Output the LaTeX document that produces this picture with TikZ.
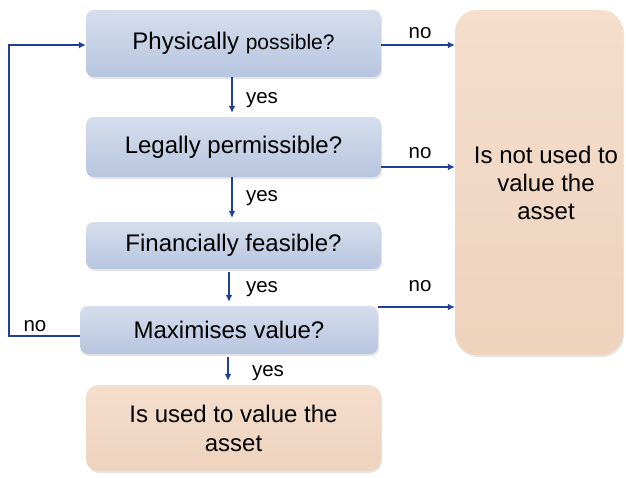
\documentclass[tikz,border=0pt]{standalone}
\usepackage{fontspec}
\setmainfont{Liberation Sans}
\usetikzlibrary{arrows.meta,shadows}
\definecolor{bluetop}{HTML}{D6DEED}
\definecolor{bluebot}{HTML}{B7C5DF}
\definecolor{peach}{HTML}{EED3BD}
\definecolor{peachtop}{HTML}{F4DECC}
\definecolor{arrowblue}{HTML}{1F3F99}
\tikzset{
  qbox/.style={rectangle, rounded corners=8pt, top color=bluetop, bottom color=bluebot,
    draw=none, minimum width=295pt, align=center, inner sep=0pt,
    font=\fontsize{24}{28}\selectfont,
    drop shadow={shadow xshift=1pt, shadow yshift=-2pt, fill=black!25, opacity=.4}},
  abox/.style={rectangle, top color=peachtop, bottom color=peach, draw=none,
    align=center, inner sep=0pt, font=\fontsize{24}{29}\selectfont,
    drop shadow={shadow xshift=1pt, shadow yshift=-2pt, fill=black!25, opacity=.4}},
  arr/.style={draw=arrowblue, line width=2pt, -{Latex[length=7pt,width=7pt]}},
  lbl/.style={font=\fontsize{20.5}{24}\selectfont, inner sep=0pt}
}
\begin{document}
\begin{tikzpicture}[x=1pt,y=-1pt]
\useasboundingbox (0,0) rectangle (626,477);
\node[qbox, minimum height=67pt] (b1) at (233.5,43.5) {Physically {\fontsize{21}{25}\selectfont possible?}};
\node[qbox, minimum height=60pt] (b2) at (233.5,147) {Legally permissible?};
\node[qbox, minimum height=47pt] (b3) at (233.5,245.5) {Financially feasible?};
\node[qbox, minimum height=48pt, minimum width=298pt] (b4) at (229,330) {Maximises value?};
\node[abox, rounded corners=12pt, minimum width=295pt, minimum height=86pt] (b5) at (233.5,428) {Is used to value the\\asset};
\node[abox, rounded corners=22pt, minimum width=168pt, minimum height=345pt] (R) at (539,182.5) {};
\node[font=\fontsize{24}{28.3}\selectfont, align=center, inner sep=0pt] (Rt) at (546,183) {Is not used to\\value the\\asset};

% yes arrows
\draw[arr] ([xshift=-1.5pt]b1.south) -- ([xshift=-1.5pt,yshift=4pt]b2.north);
\draw[arr] ([xshift=-1.5pt]b2.south) -- ([xshift=-1.5pt,yshift=4pt]b3.north);
\draw[arr] ([xshift=-4.5pt,yshift=-3pt]b3.south) -- ([xshift=0pt,yshift=4pt]b4.north);
\draw[arr] ([xshift=-1pt,yshift=-3pt]b4.south) -- ([xshift=-5.5pt,yshift=4pt]b5.north);
\node[lbl] (y1) at (262,100) {yes};
\node[lbl] (y2) at (262,198) {yes};
\node[lbl] (y3) at (262,289) {yes};
\node[lbl] (y4) at (268,373) {yes};

% no arrows
\draw[arr] ([yshift=-1.5pt]b1.east) -- ([yshift=-1.5pt]b1.east -| R.west);
\draw[arr] ([yshift=-20pt]b2.east) -- ([yshift=-20pt]b2.east -| R.west);
\draw[arr] ([yshift=23pt]b4.east) -- ([yshift=23pt]b4.east -| R.west);
\node[lbl] (n1) at (420,33) {no};
\node[lbl] (n2) at (420,153) {no};
\node[lbl] (n3) at (420,286) {no};

% feedback loop
\coordinate (c1) at (9,336);
\coordinate (c2) at (9,45);
\draw[arr] ([yshift=-6pt]b4.west) -- (c1) -- (c2) -- ([yshift=-1.5pt]b1.west);
\node[lbl] (n4) at (35,326) {no};
\end{tikzpicture}
\end{document}
